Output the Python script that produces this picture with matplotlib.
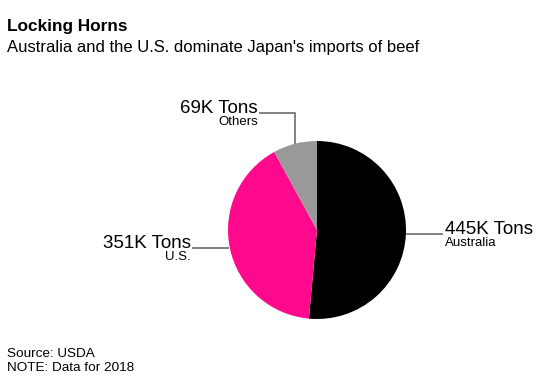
import matplotlib.pyplot as plt

plt.rcParams['font.family'] = ['Liberation Sans', 'DejaVu Sans']

# data
countries = ['Australia', 'U.S.', 'Others']
tons_k = [445, 351, 69]
colors = ['#000000', '#ff0a8c', '#999999']

W, H = 548, 384
fig = plt.figure(figsize=(W / 100, H / 100), dpi=100)
ax = fig.add_axes([0, 0, 1, 1])
ax.set_xlim(0, W)
ax.set_ylim(0, H)
ax.axis('off')

cx, cy, r = 317, H - 230, 89
ax.pie(tons_k, colors=colors, startangle=90, counterclock=False,
       center=(cx, cy), radius=r, wedgeprops=dict(linewidth=0))
ax.set_aspect('equal')
ax.set_xlim(0, W)
ax.set_ylim(0, H)

big, small = 13.5, 9.5
line_kw = dict(color='#777777', lw=1.3)
# Australia
ya = H - 234
ax.plot([407, 442], [ya, ya], **line_kw)
ax.text(445, ya, f'{tons_k[0]}K Tons', fontsize=big, ha='left', va='baseline')
ax.text(445, ya - 3, countries[0], fontsize=small, ha='left', va='top')
# U.S.
yu = H - 248
ax.plot([193, 228], [yu, yu], **line_kw)
ax.text(191, yu, f'{tons_k[1]}K Tons', fontsize=big, ha='right', va='baseline')
ax.text(191, yu - 3, countries[1], fontsize=small, ha='right', va='top')
# Others
yo = H - 113
ax.plot([260, 295, 295], [yo, yo, H - 143], **line_kw)
ax.text(258, yo, f'{tons_k[2]}K Tons', fontsize=big, ha='right', va='baseline')
ax.text(258, yo - 3, countries[2], fontsize=small, ha='right', va='top')

fig.text(7 / W, 1 - 19 / H, 'Locking Horns', fontsize=12.4, fontweight='bold',
         ha='left', va='top')
fig.text(7 / W, 1 - 40 / H, "Australia and the U.S. dominate Japan's imports of beef",
         fontsize=12, ha='left', va='top')
fig.text(7 / W, 1 - 348 / H, 'Source: USDA', fontsize=9.7, ha='left', va='top')
fig.text(7 / W, 1 - 362 / H, 'NOTE: Data for 2018', fontsize=9.7, ha='left', va='top')

fig.savefig('out.png', dpi=100)
